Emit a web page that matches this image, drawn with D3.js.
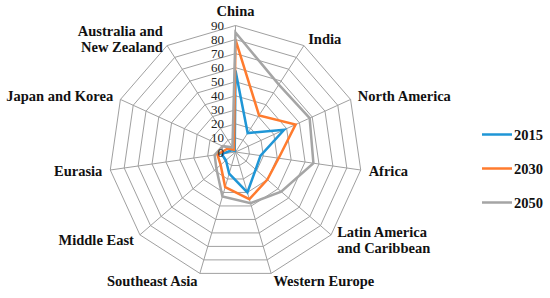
<!DOCTYPE html>
<meta charset="utf-8" />
<title>Radar chart</title>
<script src="https://d3js.org/d3.v7.min.js"></script>
<style>
body {
    margin: 0;
    background: #fff;
}
svg text {
    font-family: "Liberation Serif", "Times New Roman", Times, "DejaVu Serif", serif;
}
.cat,
.legend text {
    font-weight: bold;
    font-size: 14.5px;
    fill: #111;
}
.tick {
    font-size: 13px;
    fill: #222;
}
</style>
<div id="chart"></div>
<script>
// categories (clockwise from top)
var categories = ["China", "India", "North America", "Africa", "Latin America and Caribbean",
    "Western Europe", "Southeast Asia", "Middle East", "Eurasia", "Japan and Korea",
    "Australia and New Zealand"];
var labelLines = [["China"], ["India"], ["North America"], ["Africa"], ["Latin America", "and Caribbean"],
    ["Western Europe"], ["Southeast Asia"], ["Middle East"], ["Eurasia"], ["Japan and Korea"],
    ["Australia and", "New Zealand"]];
var v2015 = [58, 16, 38, 18, 19, 30, 16, 9, 10, 3, 1];
var v2030 = [80, 31, 47, 31, 30, 35, 26, 14, 13, 6, 2];
var v2050 = [85, 57, 58, 56, 43, 38, 33, 18, 15, 10, 4];
var seriesNames = ["2015", "2030", "2050"];
var tickValues = [0, 10, 20, 30, 40, 50, 60, 70, 80, 90];

var colors = ["#1f96d6", "#ff7b2e", "#a5a5a5"];
var width = 550, height = 298;
var cx = 235.5, cy = 152, R = 126.5;

var svg = d3.select("#chart").append("svg")
    .attr("width", width)
    .attr("height", height)
    .attr("font-family", "Liberation Serif, serif");

var r = d3.scaleLinear().domain([0, 90]).range([0, R]);
var ang = d3.scaleLinear().domain([0, categories.length]).range([0, 2 * Math.PI]);
var idx = d3.range(categories.length);

var g = svg.append("g").attr("transform", "translate(" + cx + "," + cy + ")");

// grid rings
var ring = d3.lineRadial()
    .angle(function(i) { return ang(i); })
    .curve(d3.curveLinearClosed);
g.selectAll(".ring")
    .data(tickValues.slice(1))
    .enter().append("path")
    .attr("class", "ring")
    .attr("d", function(t) { return ring.radius(r(t))(idx); })
    .attr("fill", "none")
    .attr("stroke", "#a0a0a0")
    .attr("stroke-width", 1);

// spokes
g.selectAll(".spoke")
    .data(idx)
    .enter().append("line")
    .attr("class", "spoke")
    .attr("x1", 0).attr("y1", 0)
    .attr("x2", function(i) { return r(90) * Math.sin(ang(i)); })
    .attr("y2", function(i) { return -r(90) * Math.cos(ang(i)); })
    .attr("stroke", "#a0a0a0")
    .attr("stroke-width", 1);

// series
var line = d3.lineRadial()
    .angle(function(d, i) { return ang(i); })
    .radius(function(d) { return r(d); })
    .curve(d3.curveLinearClosed);
var series = [v2015, v2030, v2050];
g.selectAll(".series")
    .data(series)
    .enter().append("path")
    .attr("class", "series")
    .attr("d", function(d) { return line(d); })
    .attr("fill", "none")
    .attr("stroke", function(d, i) { return colors[i]; })
    .attr("stroke-width", 2.5)
    .attr("stroke-linejoin", "miter");

// tick labels along the China axis
g.selectAll(".tick")
    .data(tickValues)
    .enter().append("text")
    .attr("class", "tick")
    .attr("x", -11.5)
    .attr("y", function(t) { return -r(t) + 4.5; })
    .attr("text-anchor", "end")
    .text(function(t) { return t; });

// category labels
var off = 8, lh = 16.6;
var cat = g.selectAll(".cat")
    .data(idx)
    .enter().append("text")
    .attr("class", "cat")
    .attr("text-anchor", function(i) {
        var s = Math.sin(ang(i));
        return Math.abs(s) < 0.1 ? "middle" : (s > 0 ? "start" : "end");
    });
cat.each(function(i) {
    var s = Math.sin(ang(i)), c = Math.cos(ang(i));
    var x = (r(90) + off) * s;
    var y = -(r(90) + off) * c + 5;
    if (Math.abs(s) < 0.1) y = -(r(90) + 10);
    var lines = labelLines[i];
    var y0 = y - (lines.length - 1) * lh / 2;
    d3.select(this).selectAll("tspan")
        .data(lines)
        .enter().append("tspan")
        .attr("x", x)
        .attr("y", function(d, k) { return y0 + k * lh; })
        .text(function(d) { return d; });
});

// legend
var legend = svg.append("g").attr("class", "legend");
var lg = legend.selectAll("g")
    .data(seriesNames)
    .enter().append("g")
    .attr("transform", function(d, i) { return "translate(482," + (134.5 + i * 34) + ")"; });
lg.append("line")
    .attr("x1", 0).attr("x2", 30)
    .attr("stroke", function(d, i) { return colors[i]; })
    .attr("stroke-width", 2.5);
lg.append("text")
    .attr("x", 32)
    .attr("y", 5)
    .text(function(d) { return d; });
</script>
